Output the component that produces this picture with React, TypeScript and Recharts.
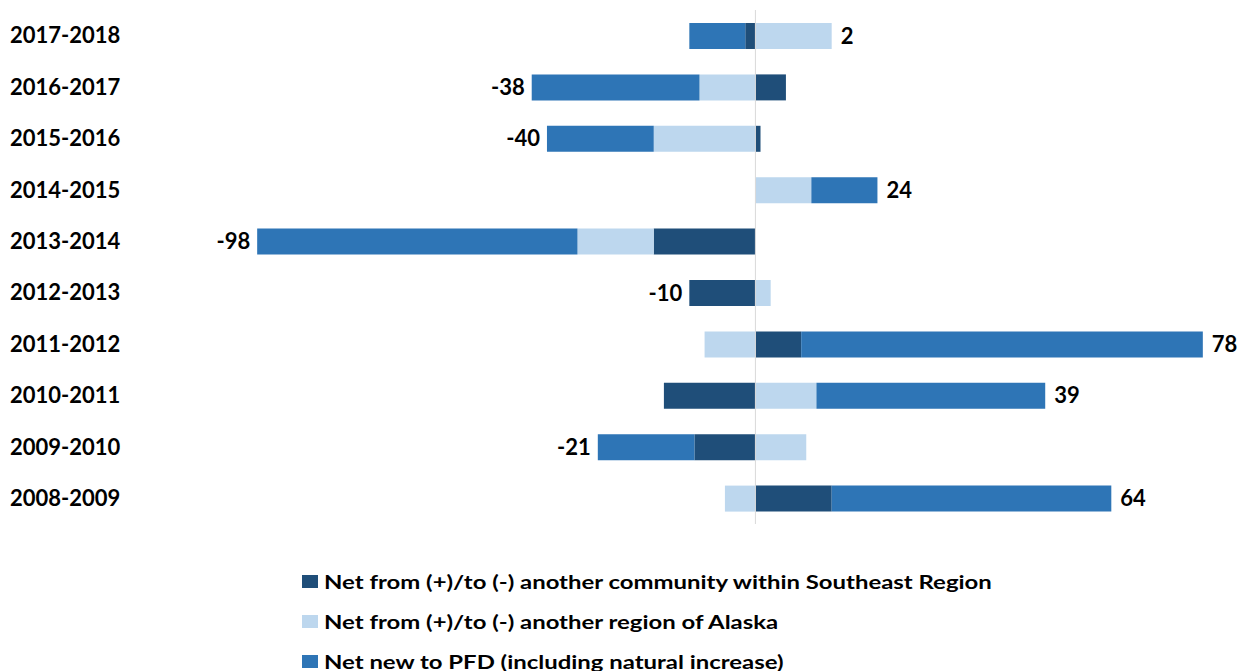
import { BarChart, Bar, XAxis, YAxis, ReferenceLine, ReferenceDot, Legend } from 'recharts';

// Net migration components by PFD year, most recent first
const periods = [
  '2017-2018',
  '2016-2017',
  '2015-2016',
  '2014-2015',
  '2013-2014',
  '2012-2013',
  '2011-2012',
  '2010-2011',
  '2009-2010',
  '2008-2009',
];
const withinRegion = [-2, 6, 1, 0, -20, -13, 9, -18, -12, 15];
const otherRegion = [15, -11, -20, 11, -15, 3, -10, 12, 10, -6];
const newToPfd = [-11, -33, -21, 13, -63, 0, 79, 45, -19, 55];

const SERIES = [
  { key: 'within', name: 'Net from (+)/to (-) another community within Southeast Region', color: '#1f4e79' },
  { key: 'other', name: 'Net from (+)/to (-) another region of Alaska', color: '#bdd7ee' },
  { key: 'pfd', name: 'Net new to PFD (including natural increase)', color: '#2e75b6' },
];

const FONT = 'Lato, "Open Sans", sans-serif';

const rows = periods.map((period, i) => {
  const parts = [withinRegion[i], otherRegion[i], newToPfd[i]];
  const total = parts.reduce((a, b) => a + b, 0);
  const pos = parts.filter((v) => v > 0).reduce((a, b) => a + b, 0);
  const neg = parts.filter((v) => v < 0).reduce((a, b) => a + b, 0);
  return {
    period,
    within: withinRegion[i],
    other: otherRegion[i],
    pfd: newToPfd[i],
    total,
    // the label sits at the outer end of the bar on the side of the net total
    end: total >= 0 ? pos : neg,
  };
});

const PeriodTick = (props: any) => {
  const { y, payload } = props;
  return (
    <text x={10} y={y} dy="0.35em" textAnchor="start" fill="#000" fontFamily={FONT} fontWeight={700} fontSize={22}>
      {payload.value}
    </text>
  );
};

const renderLegend = () => (
  <div style={{ height: 147, boxSizing: 'border-box', paddingLeft: 302, paddingTop: 37 }}>
    {SERIES.map((s) => (
      <div key={s.key} style={{ display: 'flex', alignItems: 'center', height: 40 }}>
        <span style={{ display: 'inline-block', width: 16, height: 13, background: s.color, marginRight: 6 }} />
        <span
          style={{
            display: 'inline-block',
            fontFamily: FONT,
            fontWeight: 700,
            fontSize: 19,
            color: '#000',
            whiteSpace: 'nowrap',
            transform: 'scaleX(1.258)',
            transformOrigin: '0 50%',
          }}
        >
          {s.name}
        </span>
      </div>
    ))}
  </div>
);

export default function App() {
  return (
    <div style={{ position: 'absolute', left: 0, top: 0, background: '#fff' }}>
      <BarChart
        width={1241}
        height={671}
        data={rows}
        layout="vertical"
        stackOffset="sign"
        margin={{ top: 10, right: 28, bottom: 0, left: 0 }}
      >
        <XAxis type="number" domain={[-100, 90]} allowDataOverflow hide />
        <YAxis
          type="category"
          dataKey="period"
          width={247}
          axisLine={false}
          tickLine={false}
          tick={<PeriodTick />}
        />
        <ReferenceLine x={0} stroke="#d9d9d9" strokeWidth={1} />
        {SERIES.map((s) => (
          <Bar key={s.key} dataKey={s.key} name={s.name} stackId="net" fill={s.color} barSize={26} isAnimationActive={false} />
        ))}
        {rows.map((r) => (
          <ReferenceDot
            key={r.period}
            x={r.end}
            y={r.period}
            r={0}
            fill="none"
            stroke="none"
            label={{
              value: String(r.total),
              position: r.total >= 0 ? 'right' : 'left',
              offset: r.total >= 0 ? 9 : 7,
              fill: '#000',
              fontFamily: FONT,
              fontWeight: 700,
              fontSize: 22,
            }}
          />
        ))}
        <Legend verticalAlign="bottom" align="left" content={renderLegend} />
      </BarChart>
    </div>
  );
}
